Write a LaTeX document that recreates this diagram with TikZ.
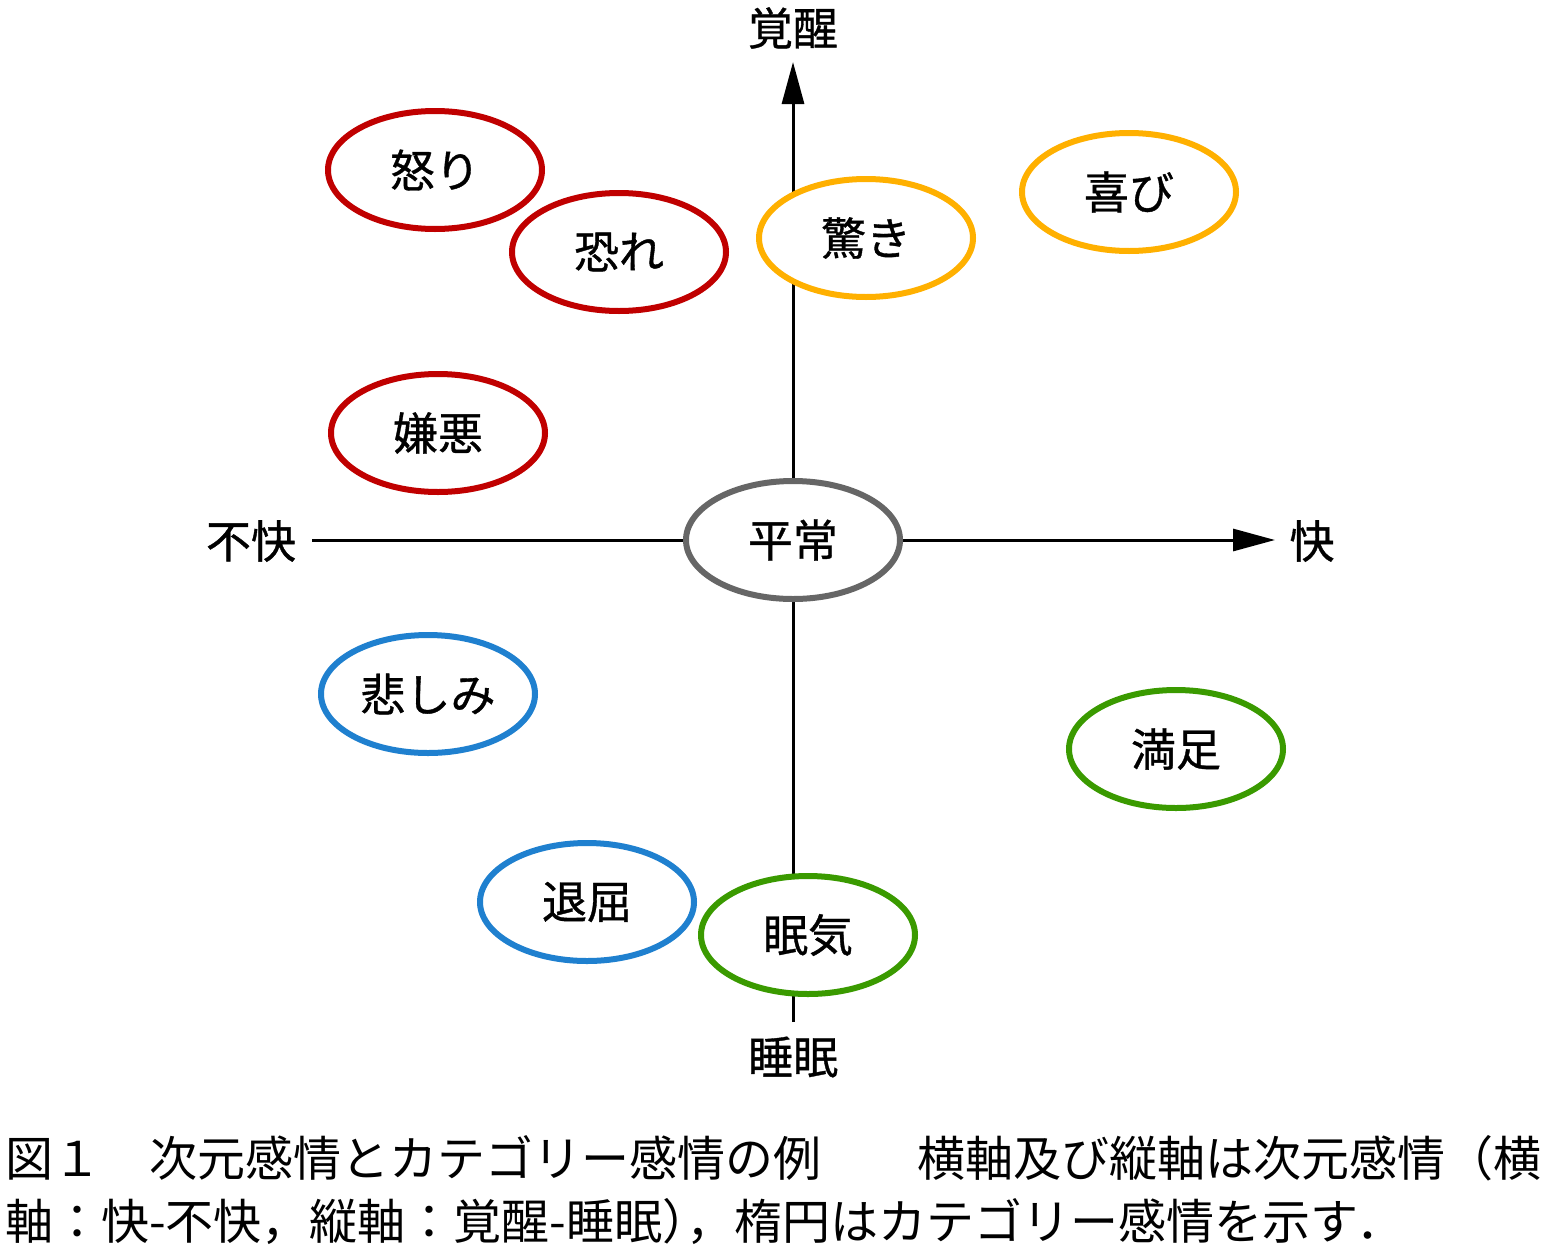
\documentclass[tikz,border=0pt]{standalone}
\usepackage{fontspec}
\setmainfont{Noto Sans CJK JP}
\newfontfamily\medfont[FakeBold=0.8]{Noto Sans CJK JP}
\usetikzlibrary{arrows.meta,shapes.geometric}
\definecolor{cred}{HTML}{C00000}
\definecolor{corange}{HTML}{FFB000}
\definecolor{cgray}{HTML}{666666}
\definecolor{cblue}{HTML}{1F80CF}
\definecolor{cgreen}{HTML}{3A9A00}
\tikzset{
  emo/.style={ellipse, draw=#1, line width=6pt, fill=white, minimum width=214pt, minimum height=118pt, inner sep=0pt, font=\medfont\fontsize{45}{50}\selectfont},
  axis/.style={line width=3pt, -{Triangle[length=42pt,width=22pt]}},
  axlabel/.style={font=\medfont\fontsize{45}{50}\selectfont, inner sep=0pt},
  captext/.style={font=\fontsize{48}{56}\selectfont, inner sep=0pt, anchor=west}
}
\begin{document}
\begin{tikzpicture}[x=1pt,y=-1pt]
\useasboundingbox (0,0) rectangle (1549,1250);
\coordinate (vb) at (793,1022);
\coordinate (vt) at (793,62);
\coordinate (hl) at (312,540);
\coordinate (hr) at (1275,540);
\draw[axis] (vb) -- (vt);
\draw[axis] (hl) -- (hr);
\node[axlabel] (up) at (793,28) {覚醒};
\node[axlabel] (down) at (793,1057) {睡眠};
\node[axlabel] (left) at (251,541) {不快};
\node[axlabel] (right) at (1312,541) {快};
\node[emo=cred] (ikari) at (435,170) {怒り};
\node[emo=cred] (osore) at (619,252) {恐れ};
\node[emo=corange] (odoroki) at (866,238) {驚き};
\node[emo=corange] (yorokobi) at (1129,192) {喜び};
\node[emo=cred] (keno) at (438,433) {嫌悪};
\node[emo=cgray] (heijo) at (793,540) {平常};
\node[emo=cblue] (kanashimi) at (428,694) {悲しみ};
\node[emo=cgreen] (manzoku) at (1176,749) {満足};
\node[emo=cblue] (taikutsu) at (587,902) {退屈};
\node[emo=cgreen] (nemuke) at (808,935) {眠気};
\node[captext] (cap1) at (5,1158) {図１　次元感情とカテゴリー感情の例　　横軸及び縦軸は次元感情（横};
\node[captext] (cap2) at (5,1222) {軸：快-不快，縦軸：覚醒-睡眠）\kern-0.5em，楕円はカテゴリー感情を示す．};
\end{tikzpicture}
\end{document}
